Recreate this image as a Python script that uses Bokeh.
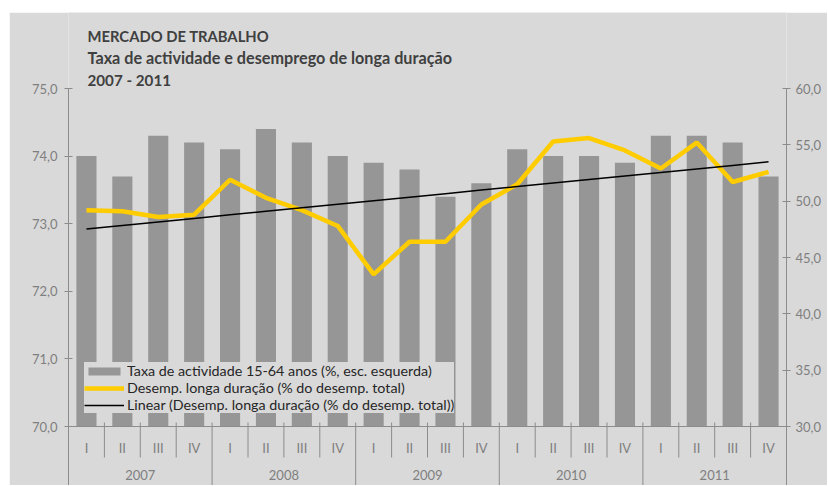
import numpy as np
from bokeh.plotting import figure
from bokeh.layouts import column, row
from bokeh.models import (Range1d, LinearAxis, FixedTicker, CustomJSTickFormatter,
                          Span, Label, Legend, LegendItem, Spacer)
from bokeh.core.properties import value
from bokeh.embed import file_html
from bokeh.resources import INLINE

# ---------------- data ----------------
years = ["2007", "2008", "2009", "2010", "2011"]
quarters = ["I", "II", "III", "IV"]
taxa_actividade = [74.0, 73.7, 74.3, 74.2, 74.1, 74.4, 74.2, 74.0, 73.9, 73.8,
                   73.4, 73.6, 74.1, 74.0, 74.0, 73.9, 74.3, 74.3, 74.2, 73.7]
desemp_longa = [49.2, 49.1, 48.6, 48.8, 51.9, 50.3, 49.2, 47.8, 43.5, 46.4,
                46.4, 49.7, 51.5, 55.3, 55.6, 54.5, 52.9, 55.2, 51.7, 52.6]
left_ticks = [70, 71, 72, 73, 74, 75]
right_ticks = [30, 35, 40, 45, 50, 55, 60]
titles = ["MERCADO DE TRABALHO",
          "Taxa de actividade e desemprego de longa duração",
          "2007 - 2011"]
legend_labels = ["Taxa de actividade 15-64 anos (%, esc. esquerda)",
                 "Desemp. longa duração (% do desemp. total)",
                 "Linear (Desemp. longa duração (% do desemp. total))"]

# ---------------- styles / layout ----------------
BG = "#D9D9D9"
BAR = "#969696"
YEL = "#FFCC00"
AXC = "#8C8C8C"
TXC = "#7F7F7F"
FONT = "Lato"
W, H = 818, 473
B_LEFT, B_RIGHT = 59, 41
TOP_PX = 76              # figure top -> highest tick
AXIS_PX = 338            # pixels between lowest and highest tick
below_px = H - TOP_PX - AXIS_PX

lmin, lmax = left_ticks[0], left_ticks[-1]
rmin, rmax = right_ticks[0], right_ticks[-1]
l_per_px = (lmax - lmin) / AXIS_PX
r_per_px = (rmax - rmin) / AXIS_PX


def below(px):
    """left-axis value px pixels below the category axis line"""
    return lmin - px * l_per_px


n = len(years) * len(quarters)
idx = np.arange(n)
xc = idx + 0.5
qlabels = [q for _ in years for q in quarters]

lstart, lend = below(below_px), lmax + TOP_PX * l_per_px
rstart, rend = rmin - below_px * r_per_px, rmax + TOP_PX * r_per_px

p = figure(width=W, height=H, x_range=Range1d(0, n),
           y_range=Range1d(lstart, lend),
           x_axis_location=None, y_axis_location="left",
           output_backend="svg", toolbar_location=None,
           min_border_left=B_LEFT, min_border_right=B_RIGHT,
           min_border_top=0, min_border_bottom=0,
           background_fill_color=BG, border_fill_color=BG,
           outline_line_color=None)
p.grid.visible = False
p.extra_y_ranges = {"right": Range1d(rstart, rend)}

fmt = CustomJSTickFormatter(code="return tick.toFixed(1).replace('.', ',');")


def style_axis(ax, standoff):
    ax.axis_line_color = AXC
    ax.major_tick_line_color = AXC
    ax.minor_tick_line_color = None
    ax.major_tick_in = 4
    ax.major_tick_out = 4
    ax.major_label_text_font = FONT
    ax.major_label_text_font_size = "13px"
    ax.major_label_text_color = TXC
    ax.major_label_standoff = standoff
    ax.formatter = fmt


ly = p.yaxis[0]
ly.ticker = FixedTicker(ticks=left_ticks)
ly.bounds = (lstart, lmax)
style_axis(ly, 7)

ry = LinearAxis(y_range_name="right", ticker=FixedTicker(ticks=right_ticks),
                bounds=(rstart, rmax))
style_axis(ry, 5)
p.add_layout(ry, "right")

# bars
bars = p.vbar(x=xc, top=taxa_actividade, bottom=lmin, width=0.56,
              fill_color=BAR, line_color=None)

# category axis line
p.add_layout(Span(location=lmin, dimension="width", line_color=AXC, line_width=1))

# separators
q_sep = [i for i in range(1, n) if i % len(quarters) != 0]
y_sep = [i for i in range(1, n) if i % len(quarters) == 0]
p.segment(x0=q_sep, x1=q_sep, y0=[below(-4)] * len(q_sep), y1=[below(31)] * len(q_sep),
          line_color=AXC, line_width=1)
p.segment(x0=y_sep, x1=y_sep, y0=[below(-4)] * len(y_sep), y1=[lstart] * len(y_sep),
          line_color=AXC, line_width=1)

# category labels
p.text(x=xc, y=[below(21.5)] * n, text=qlabels, text_align="center",
       text_baseline="middle", text_font=value(FONT), text_font_size="13px",
       text_color=TXC)
yc = [len(quarters) * k + len(quarters) / 2 for k in range(len(years))]
p.text(x=yc, y=[below(48.5)] * len(years), text=years, text_align="center",
       text_baseline="middle", text_font=value(FONT), text_font_size="13px",
       text_color=TXC)

# lines
ln = p.line(x=xc, y=desemp_longa, y_range_name="right", line_color=YEL, line_width=4.5)
coef = np.polyfit(idx, desemp_longa, 1)
trend = np.polyval(coef, idx)
tr = p.line(x=xc, y=trend, y_range_name="right", line_color="black", line_width=1.5)

legend = Legend(items=[LegendItem(label=legend_labels[0], renderers=[bars]),
                       LegendItem(label=legend_labels[1], renderers=[ln]),
                       LegendItem(label=legend_labels[2], renderers=[tr])],
                location=(16, 72), orientation="vertical",
                background_fill_color=BG, background_fill_alpha=1.0,
                border_line_color=None, padding=4, margin=0, spacing=0,
                glyph_width=40, glyph_height=10, label_height=16,
                label_standoff=3, label_text_font=FONT,
                label_text_font_size="14.3px", label_text_color="#262626")
p.add_layout(legend)

# titles (baselines measured from frame bottom)
title_base = [449.3, 427.7, 406.0]
title_size = ["14.8px", "16.2px", "15.2px"]
for t, yb, fs in zip(titles, title_base, title_size):
    p.add_layout(Label(x=19, y=yb, x_units="screen", y_units="screen",
                       text=t, text_font=FONT, text_font_style="bold",
                       text_font_size=fs, text_color="#404040",
                       text_baseline="alphabetic"))

page = column(Spacer(height=12), row(Spacer(width=9), p))
open("out.html", "w").write(file_html(page, INLINE))
